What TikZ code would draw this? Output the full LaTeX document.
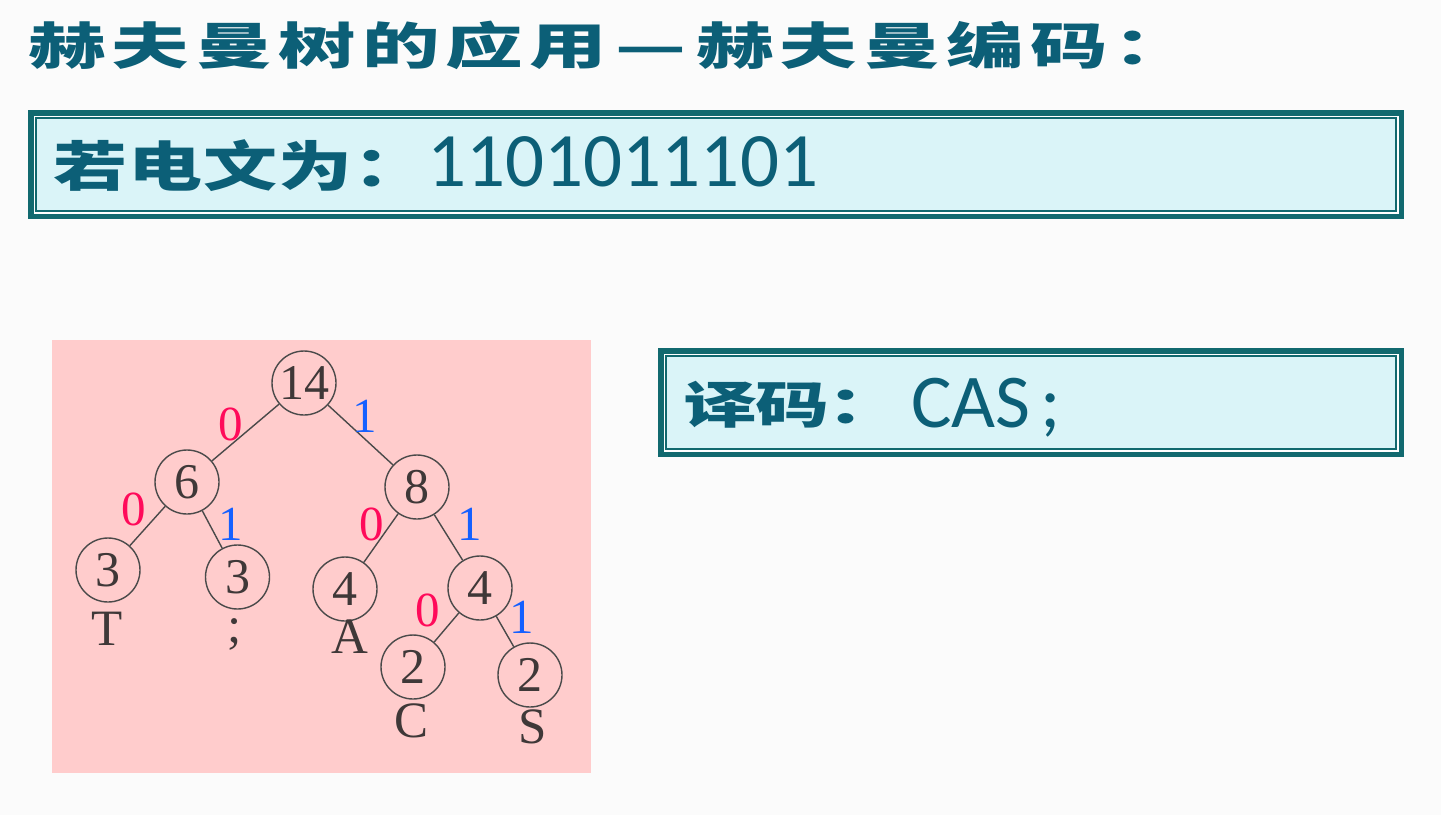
\documentclass[tikz,border=0pt]{standalone}
\usepackage{fontspec}
\usepackage{graphicx}
\setmainfont{Liberation Serif}
\newfontfamily\cjk{Noto Sans CJK SC}
\newfontfamily\cali{Carlito}
\definecolor{tealtext}{HTML}{0C5F77}
\definecolor{boxteal}{HTML}{11696F}
\definecolor{boxfill}{HTML}{DAF4F8}
\definecolor{pinkbg}{HTML}{FFCCCC}
\definecolor{treeink}{HTML}{3F3838}
\definecolor{treeline}{HTML}{4A4A4A}
\definecolor{zerored}{HTML}{FF0A5A}
\definecolor{oneblue}{HTML}{1560FF}
\def\spcW{0pt}\def\spcS{1}
\def\spc#1#2{\def\spcW{#1}\def\spcS{#2}\spcnext}
\def\spcnext#1{\ifx\relax#1\else\makebox[\spcW]{\scalebox{\spcS}[1]{#1}}\expandafter\spcnext\fi}
\newcommand\panelbox[4]{%
  \fill[boxteal] (#1,#2) rectangle (#3,#4);
  \fill[white] ({#1+5.5},{#2+5.5}) rectangle ({#3-5.5},{#4-5.5});
  \filldraw[fill=boxfill, draw=boxteal, line width=1.5pt] ({#1+8},{#2+8}) rectangle ({#3-8},{#4-8});}
\begin{document}
\begin{tikzpicture}[x=1pt,y=-1pt,
  tnode/.style={circle, draw=treeline, line width=1.4pt, minimum size=64pt, inner sep=0pt, text=treeink, font=\fontsize{50}{52}\selectfont},
  leaflabel/.style={anchor=base, inner sep=0pt, text=treeink, font=\fontsize{51}{53}\selectfont},
  zlabel/.style={anchor=base, inner sep=0pt, text=zerored, font=\fontsize{49}{51}\selectfont},
  olabel/.style={anchor=base, inner sep=0pt, text=oneblue, font=\fontsize{49}{51}\selectfont},
  edge/.style={draw=treeline, line width=1.4pt},
  cjktext/.style={anchor=base west, inner sep=0pt, text=tealtext}]
\useasboundingbox (0,0) rectangle (1441,815);
\fill[white!98.5!black] (0,0) rectangle (1441,815);
% title
\node[cjktext, font=\cjk\bfseries\fontsize{50}{56}\selectfont] (title) at (25,64)
  {\spc{83.5pt}{1.55}赫夫曼树的应用—赫夫曼编码：\relax};
% box 1
\panelbox{28}{110}{1404}{219}
\node[cjktext] (msg) at (52.5,186)
  {{\cjk\bfseries\fontsize{54}{60}\selectfont\spc{75pt}{1.37}若电文为：\relax}{\cali\fontsize{77}{80}\selectfont 1101011101}};
% box 2
\panelbox{658}{348}{1404}{457}
\node[cjktext] (dec) at (684,427)
  {\raisebox{4pt}{\cjk\bfseries\fontsize{50}{56}\selectfont\spc{72pt}{1.48}译码：\relax}\hspace{11pt}{\cali\fontsize{76}{80}\selectfont CAS\hspace{10pt};}};
% tree panel
\fill[pinkbg] (52,340) rectangle (591,773);
\node[tnode] (r) at (304,383) {14};
\node[tnode] (a) at (187,482) {6};
\node[tnode] (b) at (417,487) {8};
\node[tnode] (t) at (108,570) {3};
\node[tnode] (s) at (237.5,577) {3};
\node[tnode] (ca) at (345,589) {4};
\node[tnode] (d) at (480,588) {4};
\node[tnode] (cc) at (413,667) {2};
\node[tnode] (cs) at (530,675) {2};
\draw[edge] (r) -- (a);
\draw[edge] (r) -- (b);
\draw[edge] (a) -- (t);
\draw[edge] (a) -- (s);
\draw[edge] (b) -- (ca);
\draw[edge] (b) -- (d);
\draw[edge] (d) -- (cc);
\draw[edge] (d) -- (cs);
\node[leaflabel] (lt) at (107.5,645) {T};
\node[leaflabel] (ls) at (234.7,642) {;};
\node[leaflabel] (la) at (349.7,653) {A};
\node[leaflabel] (lc) at (412,737) {C};
\node[leaflabel] (lS) at (532.6,743) {S};
\node[zlabel] (e1) at (231,440) {0};
\node[olabel] (e2) at (365,432) {1};
\node[zlabel] (e3) at (133.6,525) {0};
\node[olabel] (e4) at (231,540) {1};
\node[zlabel] (e5) at (372,540) {0};
\node[olabel] (e6) at (470,540) {1};
\node[zlabel] (e7) at (428,626) {0};
\node[olabel] (e8) at (522,633) {1};
\end{tikzpicture}
\end{document}
